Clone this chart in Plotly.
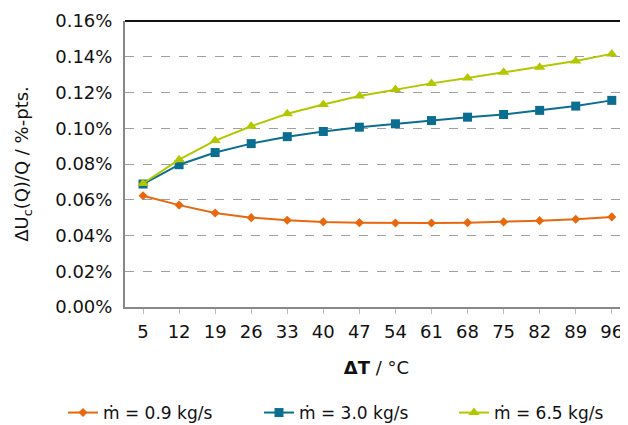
import plotly.graph_objects as go

delta_t = ["5", "12", "19", "26", "33", "40", "47", "54", "61", "68", "75", "82", "89", "96"]
m_09 = [0.0622, 0.0570, 0.0526, 0.0500, 0.0485, 0.0476, 0.0472, 0.0470, 0.0470, 0.0472, 0.0476, 0.0483, 0.0491, 0.0504]
m_30 = [0.0688, 0.0796, 0.0864, 0.0914, 0.0953, 0.0982, 0.1006, 0.1025, 0.1043, 0.1062, 0.1077, 0.1100, 0.1124, 0.1156]
m_65 = [0.0691, 0.0824, 0.0931, 0.1011, 0.1081, 0.1133, 0.1180, 0.1217, 0.1251, 0.1281, 0.1313, 0.1341, 0.1376, 0.1416]
y_ticks = [0.00, 0.02, 0.04, 0.06, 0.08, 0.10, 0.12, 0.14, 0.16]
y_ticktext = ["0.00%", "0.02%", "0.04%", "0.06%", "0.08%", "0.10%", "0.12%", "0.14%", "0.16%"]

FONT = "DejaVu Sans"
W, H = 620, 417  # page body has an 8px margin
fig = go.Figure()
series = [
    ("ṁ = 0.9 kg/s", m_09, "#E8680E", "diamond", 7, "legend", 55),
    ("ṁ = 3.0 kg/s", m_30, "#0B6E91", "square", 9, "legend2", 251),
    ("ṁ = 6.5 kg/s", m_65, "#B2C700", "triangle-up", 10, "legend3", 446),
]
legends = {}
for name, vals, col, sym, sz, leg, lx in series:
    fig.add_trace(go.Scatter(
        x=delta_t, y=vals, name=name, mode="lines+markers",
        line=dict(color=col, width=2),
        marker=dict(symbol=sym, size=sz, color=col),
        legend=leg,
    ))
    legends[leg] = dict(orientation="h", xref="container", yref="container",
                        x=lx / W, xanchor="left", y=1 - 405 / H, yanchor="middle",
                        font=dict(size=17, family=FONT), bgcolor="rgba(0,0,0,0)")

fig.update_layout(
    width=W, height=H,
    margin=dict(l=117, r=0, t=13, b=118, autoexpand=False),
    plot_bgcolor="white", paper_bgcolor="white",
    font=dict(family=FONT, size=17, color="#111111"),
    showlegend=True,
    xaxis=dict(
        type="category", range=[-0.5, 13.45],
        showline=True, linecolor="#888888", linewidth=2,
        ticks="outside", ticklen=5, tickcolor="#bbbbbb", tickwidth=1,
        showgrid=False, tickfont=dict(size=18),
        ticklabelstandoff=2,
        title=dict(text="<b>ΔT</b> / °C", font=dict(size=18), standoff=21),
    ),
    yaxis=dict(
        range=[0, 0.16], tickvals=y_ticks, ticktext=y_ticktext,
        showline=True, linecolor="#888888", linewidth=2,
        showgrid=True, gridcolor="#a0a0a0", griddash="dash", gridwidth=1,
        zeroline=False, tickfont=dict(size=18), ticklabelstandoff=7,
        title=dict(text="ΔU<sub>c</sub>(Q)/Q / %-pts.", font=dict(size=18), standoff=22),
    ),
    shapes=[dict(type="line", xref="paper", yref="paper", x0=0, x1=1, y0=1, y1=1,
                 line=dict(color="#111111", width=2))],
    **legends,
)
fig.write_html("out.html")
